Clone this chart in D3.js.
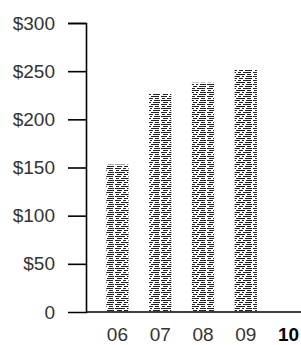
<!DOCTYPE html>
<html>
<head>
<meta charset="utf-8">
<script src="https://cdn.jsdelivr.net/npm/d3@7"></script>
<style>
  body { margin: 0; background: #fff; }
  text { font-family: "Liberation Sans", Arial, sans-serif; }
</style>
</head>
<body>
<div id="chart"></div>
<script>
// data
let years = ["06", "07", "08", "09", "10"];
let sales = [153, 227, 238, 252, 0];
let yTicks = [0, 50, 100, 150, 200, 250, 300];

let width = 301, height = 345;

let svg = d3.select("#chart")
  .append("svg")
    .attr("width", width)
    .attr("height", height);

// scanned, halftone-like texture for the bars
let defs = svg.append("defs");
let pat = defs.append("pattern")
  .attr("id", "dots")
  .attr("patternUnits", "userSpaceOnUse")
  .attr("width", 23)
  .attr("height", 8);
pat.append("rect").attr("width", 23).attr("height", 8).attr("fill", "#fff");
[[0,0,6],[8,0,3],[13,0,8],[1,2,3],[6,2,9],[17,2,4],[0,4,10],[12,4,2],[16,4,6],[2,6,5],[9,6,4],[15,6,7]]
  .forEach(function(r) {
    pat.append("rect")
      .attr("x", r[0]).attr("y", r[1])
      .attr("width", r[2]).attr("height", 1)
      .attr("fill", "#222");
  });

let x = d3.scaleBand()
  .domain(years)
  .range([96, 310])
  .paddingInner(0.48)
  .paddingOuter(0.24);

let y = d3.scaleLinear()
  .domain([0, 300])
  .range([312, 23]);

// bars
svg.selectAll(".bar")
  .data(years)
  .enter()
  .append("rect")
    .attr("class", "bar")
    .attr("x", function(d) { return x(d); })
    .attr("y", function(d, i) { return y(sales[i]); })
    .attr("width", x.bandwidth())
    .attr("height", function(d, i) { return y(0) - y(sales[i]); })
    .attr("fill", "url(#dots)");

// y axis
let yAxis = svg.append("g")
  .attr("transform", "translate(86,0)")
  .call(d3.axisLeft(y)
    .tickValues(yTicks)
    .tickSize(18)
    .tickPadding(13)
    .tickFormat(function(d) { return d === 0 ? "0" : "$" + d; }));
yAxis.select(".domain").attr("stroke", "#000").attr("stroke-width", 1.6);
yAxis.selectAll(".tick line").attr("stroke", "#000").attr("stroke-width", 1.6)
  .filter(function(d) { return d === 0; }).remove();
yAxis.selectAll(".tick text")
  .attr("font-size", 19)
  .attr("fill", "#333");

// x axis
let xAxis = svg.append("g")
  .attr("transform", "translate(0,312)")
  .call(d3.axisBottom(x).tickSize(0).tickPadding(16));
xAxis.select(".domain")
  .attr("d", "M86,0H301")
  .attr("stroke", "#000")
  .attr("stroke-width", 1.6);
xAxis.selectAll(".tick text")
  .attr("font-size", 19)
  .attr("font-weight", function(d, i) { return i === years.length - 1 ? "bold" : "normal"; })
  .attr("fill", function(d, i) { return i === years.length - 1 ? "#000" : "#333"; });
</script>
</body>
</html>
